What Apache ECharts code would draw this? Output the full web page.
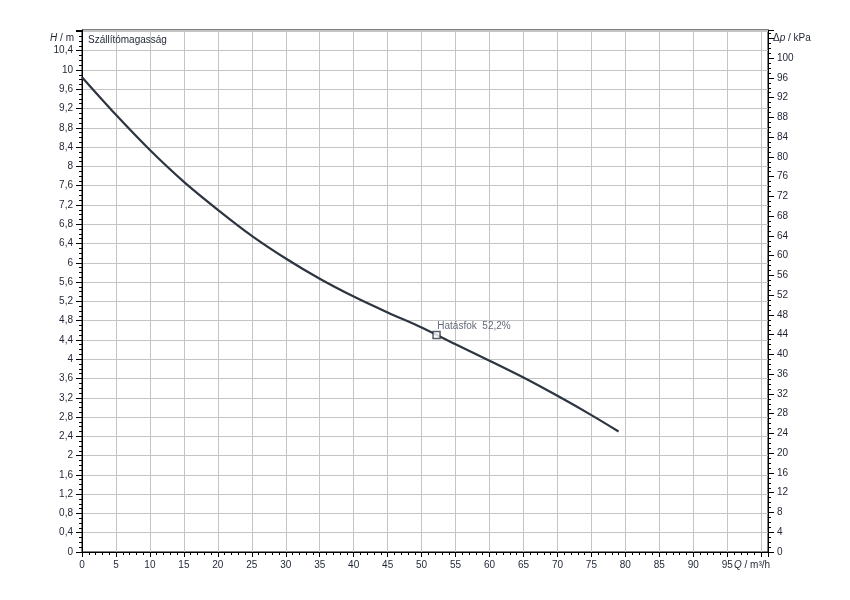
<!DOCTYPE html>
<html>
<head>
<meta charset="utf-8">
<script src="https://cdn.jsdelivr.net/npm/echarts@6/dist/echarts.min.js"></script>
<style>
html,body{margin:0;padding:0;background:#fff;}
#chart{width:850px;height:600px;}
</style>
</head>
<body>
<div id="chart"></div>
<script>
// Flow Q (m³/h) and head H (m)
const qValues = [0, 5, 10, 15, 20, 25, 30, 35, 40, 45, 50, 55, 60, 65, 70, 75, 79];
const hValues = [9.85, 9.07, 8.34, 7.68, 7.10, 6.56, 6.09, 5.67, 5.30, 4.97, 4.66, 4.31, 3.97, 3.62, 3.24, 2.84, 2.50];
const effPointQ = 52.2;
const effPointH = 4.50;
const effLabel = 'Hatásfok  52,2%';
const curveTitle = 'Szállítómagasság';

const FONT = 'Liberation Sans, Arial, sans-serif';
const TXT = '#1e2433';

function fmtComma(v) {
  const r = Math.round(v * 10) / 10;
  return String(r).replace('.', ',');
}

const chart = echarts.init(document.getElementById('chart'));
chart.setOption({
  animation: false,
  backgroundColor: '#fff',
  grid: { left: 82, right: 82, top: 30, bottom: 48, show: true, borderColor: '#000', borderWidth: 1 },
  xAxis: {
    type: 'value', min: 0, max: 101, interval: 5,
    axisLine: { show: true, onZero: false, lineStyle: { color: '#000', width: 1 } },
    axisTick: { show: true, length: 5, lineStyle: { color: '#000' } },
    minorTick: { show: true, splitNumber: 5, length: 3, lineStyle: { color: '#000' } },
    splitLine: { show: true, lineStyle: { color: '#c4c4c4', width: 1 } },
    axisLabel: {
      margin: 8, color: TXT, fontFamily: FONT, fontSize: 10,
      formatter: v => (v % 5 === 0 && v <= 95) ? String(v) : ''
    }
  },
  yAxis: [
    {
      type: 'value', min: 0, max: 10.83, interval: 0.4, position: 'left',
      axisLine: { show: true, lineStyle: { color: '#000', width: 1 } },
      axisTick: { show: true, length: 6, lineStyle: { color: '#000' } },
      minorTick: { show: true, splitNumber: 4, length: 3, lineStyle: { color: '#000' } },
      splitLine: { show: true, lineStyle: { color: '#c4c4c4', width: 1 } },
      axisLabel: {
        margin: 9, color: TXT, fontFamily: FONT, fontSize: 10,
        formatter: v => v > 10.5 ? '' : fmtComma(v)
      }
    },
    {
      type: 'value', min: 0, max: 105.7, interval: 4, position: 'right',
      axisLine: { show: true, lineStyle: { color: '#000', width: 1 } },
      axisTick: { show: true, length: 6, lineStyle: { color: '#000' } },
      minorTick: { show: true, splitNumber: 4, length: 3, lineStyle: { color: '#000' } },
      splitLine: { show: false },
      axisLabel: {
        margin: 9, color: TXT, fontFamily: FONT, fontSize: 10,
        formatter: v => (v > 101 || v % 4 !== 0) ? '' : String(v)
      }
    }
  ],
  series: [
    {
      type: 'line',
      data: qValues.map((q, i) => [q, hValues[i]]),
      smooth: 0.3,
      showSymbol: false,
      lineStyle: { color: '#2d3540', width: 2.2 },
      z: 3
    },
    {
      type: 'scatter',
      data: [[effPointQ, effPointH]],
      symbol: 'rect',
      symbolSize: 7,
      itemStyle: { color: '#fff', borderColor: '#2d3540', borderWidth: 1.5 },
      label: {
        show: true, position: [5, -10], formatter: effLabel,
        color: '#3a4558', fontFamily: FONT, fontSize: 10
      },
      z: 4
    }
  ],
  graphic: [
    {
      type: 'text', left: 88, top: 35, z: 10,
      style: { text: curveTitle, fill: '#1e2433', font: '10px ' + FONT }
    },
    {
      type: 'text', right: 850 - 74, top: 33, z: 10,
      style: {
        text: '{i|H} / m', textAlign: 'right',
        rich: {
          i: { fontStyle: 'italic', fontSize: 10, fontFamily: FONT, fill: TXT }
        },
        fill: TXT, font: '10px ' + FONT
      }
    },
    {
      type: 'text', left: 773, top: 33, z: 10,
      style: {
        text: 'Δ{i|p} / kPa',
        rich: {
          i: { fontStyle: 'italic', fontSize: 10, fontFamily: FONT, fill: TXT }
        },
        fill: TXT, font: '10px ' + FONT
      }
    },
    {
      type: 'text', left: 734, top: 560, z: 10,
      style: {
        text: '{i|Q} / m³/h',
        rich: {
          i: { fontStyle: 'italic', fontSize: 10, fontFamily: FONT, fill: TXT }
        },
        fill: TXT, font: '10px ' + FONT
      }
    }
  ]
});
</script>
</body>
</html>
